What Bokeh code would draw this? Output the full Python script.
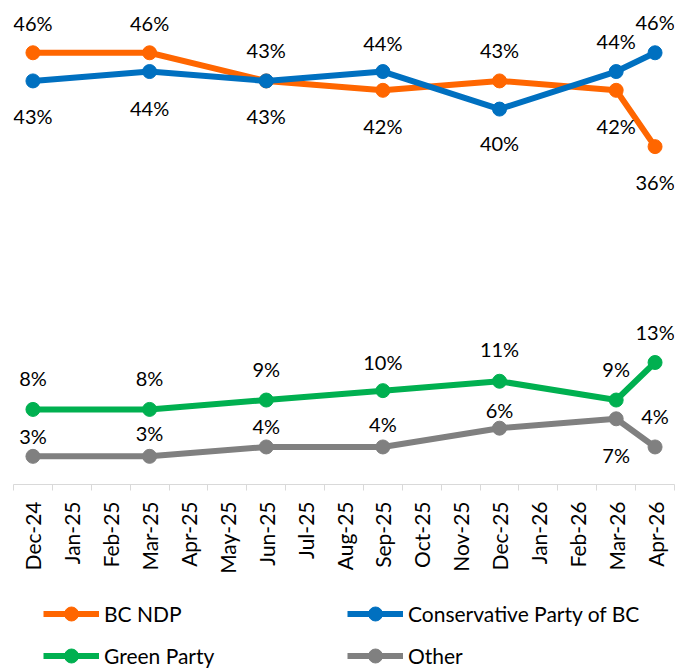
from bokeh.plotting import figure
from bokeh.models import (Range1d, LinearAxis, FixedTicker, CustomJSTickFormatter,
                          Legend, LegendItem, ColumnDataSource)
from bokeh.layouts import column
from bokeh.core.properties import value
from bokeh.embed import file_html
from bokeh.resources import INLINE
import math

# ---- data ----
months = ["Dec-24", "Jan-25", "Feb-25", "Mar-25", "Apr-25", "May-25", "Jun-25",
          "Jul-25", "Aug-25", "Sep-25", "Oct-25", "Nov-25", "Dec-25", "Jan-26",
          "Feb-26", "Mar-26", "Apr-26"]
survey_dates = ["Dec-24", "Mar-25", "Jun-25", "Sep-25", "Dec-25", "Mar-26", "Apr-26"]
bc_ndp = [46, 46, 43, 42, 43, 42, 36]
conservative = [43, 44, 43, 44, 40, 44, 46]
green = [8, 8, 9, 10, 11, 9, 13]
other = [3, 3, 4, 4, 6, 7, 4]

# ---- style: label offsets (screen px, + is down) ----
ndp_off = [-30, -30, -31, 36, -31, 36, 35]
cons_off = [35, 36, 35, -29, 34, -31, -31]
green_off = [-31, -31, -31, -29, -32, -31, -30]
other_off = [-20, -23, -21, -23, -18, 36, -31]

FONT = "Lato"
H1 = 578

p = figure(width=683, height=H1, output_backend="svg", toolbar_location=None,
           x_range=Range1d(0, len(months)), y_range=Range1d(0, 51.57),
           x_axis_location=None, y_axis_location=None,
           min_border_left=13, min_border_right=9, min_border_top=0,
           min_border_bottom=H1 - 484)
p.outline_line_color = None
p.xgrid.visible = False
p.ygrid.visible = False

xs = [months.index(d) + 0.5 for d in survey_dates]

series = [
    ("BC NDP", bc_ndp, "#FF6600", ndp_off),
    ("Conservative Party of BC", conservative, "#0070C0", cons_off),
    ("Green Party", green, "#00B050", green_off),
    ("Other", other, "#808080", other_off),
]

for name, vals, color, offs in series:
    src = ColumnDataSource(dict(x=xs, y=vals))
    p.line("x", "y", source=src, line_color=color, line_width=6, line_join="round")
    p.scatter("x", "y", source=src, size=14, fill_color=color, line_color=color)

for name, vals, color, offs in series:
    src = ColumnDataSource(dict(x=xs, y=vals, lab=[f"{v}%" for v in vals], off=offs))
    p.text("x", "y", text="lab", source=src, y_offset="off", text_align="center",
           text_baseline="middle", text_font=value(FONT), text_font_size="20px",
           text_color="#000000")

xaxis = LinearAxis(
    ticker=FixedTicker(ticks=[i + 0.5 for i in range(len(months))],
                       minor_ticks=list(range(len(months) + 1))),
    formatter=CustomJSTickFormatter(args=dict(months=months),
                                    code="return months[Math.floor(tick)];"),
)
xaxis.axis_line_color = "#D9D9D9"
xaxis.axis_line_width = 1
xaxis.major_tick_line_color = None
xaxis.major_tick_out = 0
xaxis.major_tick_in = 0
xaxis.minor_tick_line_color = "#D9D9D9"
xaxis.minor_tick_out = 6
xaxis.minor_tick_in = 0
xaxis.major_label_orientation = math.pi / 2
xaxis.major_label_standoff = 11
xaxis.major_label_text_font = FONT
xaxis.major_label_text_font_size = "21px"
xaxis.major_label_text_color = "#000000"
p.add_layout(xaxis, "below")

# ---- legend figure below the chart (its series drawn outside its visible frame) ----
H2 = 669 - H1
q = figure(width=683, height=H2, output_backend="svg", toolbar_location=None,
           x_range=Range1d(0, len(months)), y_range=Range1d(1000, 1001),
           x_axis_location=None, y_axis_location=None,
           min_border_left=0, min_border_right=0, min_border_top=0, min_border_bottom=0)
q.outline_line_color = None
q.xgrid.visible = False
q.ygrid.visible = False

items = []
for name, vals, color, offs in series:
    src = ColumnDataSource(dict(x=xs, y=vals))
    l = q.line("x", "y", source=src, line_color=color, line_width=6)
    s = q.scatter("x", "y", source=src, size=14, fill_color=color, line_color=color)
    items.append(LegendItem(label=name, renderers=[l, s]))

leg = Legend(items=items, location=(30, -4), orientation="horizontal", ncols=2,
             padding=0, margin=0, spacing=7, glyph_width=56, glyph_height=35,
             label_height=35, label_width=236, label_standoff=5,
             label_text_font=FONT, label_text_font_size="21px",
             label_text_color="#000000", border_line_color=None,
             background_fill_alpha=0)
q.add_layout(leg, "center")

layout = column(p, q, spacing=0)
open("out.html", "w").write(file_html(layout, INLINE))
